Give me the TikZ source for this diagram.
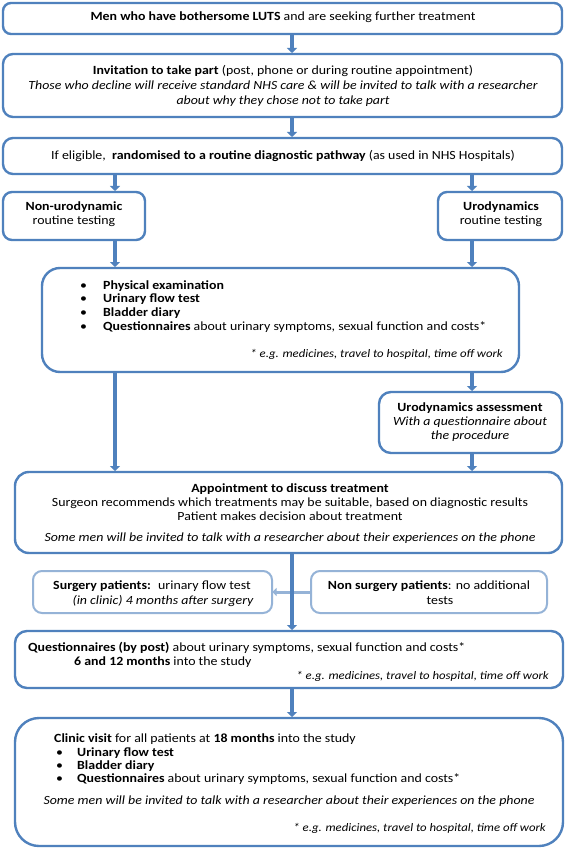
\documentclass[tikz,border=0pt]{standalone}
\usepackage{fontspec}
\setmainfont{Carlito}[FakeStretch=1.11]
\usetikzlibrary{arrows.meta}
\definecolor{bblue}{HTML}{4F81BD}
\definecolor{lblue}{HTML}{95B3D7}
\begin{document}
\begin{tikzpicture}[x=1pt,y=-1pt,
  font=\fontsize{12.5}{14.5}\selectfont,
  box/.style={draw=bblue, line width=2.4pt, rounded corners=#1, anchor=north west, inner sep=0pt, outer sep=0pt},
  box/.default=10pt,
  lbox/.style={draw=lblue, line width=2pt, rounded corners=#1, anchor=north west, inner sep=0pt, outer sep=0pt},
  lbox/.default=9pt,
  txt/.style={inner sep=0pt, anchor=base},
  txtl/.style={inner sep=0pt, anchor=base west},
  fn/.style={inner sep=0pt, anchor=base east, font=\fontsize{11.5}{13}\selectfont\itshape},
  arr/.style={draw=bblue, line width=3.8pt, -{Triangle[width=10pt,length=5pt]}, shorten >=1pt},
  larr/.style={draw=lblue, line width=3pt, -{Triangle[width=8pt,length=4pt]}, shorten >=0.5pt}
]
\useasboundingbox (0,0) rectangle (567,850);
\fill[white] (0,0) rectangle (567,850);

% boxes
\node[box=8pt, minimum width=559pt, minimum height=31pt] (b1) at (3,3) {};
\node[box=10pt, minimum width=559pt, minimum height=63pt] (b2) at (3,54) {};
\node[box=10pt, minimum width=559pt, minimum height=36pt] (b3) at (3,138) {};
\node[box=9pt, minimum width=142pt, minimum height=48pt] (b4) at (3,192) {};
\node[box=9pt, minimum width=124pt, minimum height=48pt] (b5) at (438,192) {};
\node[box=18pt, minimum width=477pt, minimum height=104pt] (b6) at (42,268) {};
\node[box=12pt, minimum width=183pt, minimum height=61pt] (b7) at (379,392) {};
\node[box=14pt, minimum width=547pt, minimum height=81pt] (b8) at (15,472) {};
\node[lbox, minimum width=239pt, minimum height=42pt] (b9) at (33,571) {};
\node[lbox, minimum width=236pt, minimum height=42pt] (b10) at (311,571) {};
\node[box=12pt, minimum width=548pt, minimum height=57pt] (b11) at (15,631) {};
\node[box=24pt, minimum width=548pt, minimum height=128pt] (b12) at (15,718) {};

% connectors
\coordinate (cx) at (292,0);
\coordinate (lx) at (115,0);
\coordinate (rx) at (472,0);
\draw[arr] (b1.south -| cx) -- (b2.north -| cx);
\draw[arr] (b2.south -| cx) -- (b3.north -| cx);
\draw[arr] (b3.south -| lx) -- (b4.north -| lx);
\draw[arr] (b3.south -| rx) -- (b5.north -| rx);
\draw[arr] (b4.south -| lx) -- (b6.north -| lx);
\draw[arr] (b5.south -| rx) -- (b6.north -| rx);
\draw[arr] (b6.south -| rx) -- (b7.north -| rx);
\draw[arr] (b6.south -| lx) -- (b8.north -| lx);
\draw[arr] (b7.south -| rx) -- (b8.north -| rx);
\draw[larr] (b10.west) -- (b9.east);
\draw[arr] (b8.south -| cx) -- (b11.north -| cx);
\draw[arr] (b11.south -| cx) -- (b12.north -| cx);

% texts
\node[txt] (t1) at (283,21) {\textbf{Men who have bothersome LUTS} and are seeking further treatment};

\node[txt] (t2a) at (283,75) {\textbf{Invitation to take part} (post, phone or during routine appointment)};
\node[txt] (t2b) at (283,90) {\itshape Those who decline will receive standard NHS care \& will be invited to talk with a researcher};
\node[txt] (t2c) at (283,105) {\itshape about why they chose not to take part};

\node[txt] (t3) at (283,160) {If eligible,~ \textbf{randomised to a routine diagnostic pathway} (as used in NHS Hospitals)};

\node[txt] (t4a) at (74,211) {\textbf{Non-urodynamic}};
\node[txt] (t4b) at (74,225) {routine testing};
\node[txt] (t5a) at (501,211) {\textbf{Urodynamics}};
\node[txt] (t5b) at (501,225) {routine testing};

\node[txtl] (t6a0) at (80,289) {\textbullet};
\node[txtl] (t6a) at (103,289) {\textbf{Physical examination}};
\node[txtl] (t6b0) at (80,302) {\textbullet};
\node[txtl] (t6b) at (103,302) {\textbf{Urinary flow test}};
\node[txtl] (t6c0) at (80,316) {\textbullet};
\node[txtl] (t6c) at (103,316) {\textbf{Bladder diary}};
\node[txtl] (t6d0) at (80,330) {\textbullet};
\node[txtl] (t6d) at (103,330) {\textbf{Questionnaires} about urinary symptoms, sexual function and costs*};
\node[fn] (t6e) at (503,357) {* e.g. medicines, travel to hospital, time off work};

\node[txt] (t7a) at (470,411) {\textbf{Urodynamics assessment}};
\node[txt] (t7b) at (470,425) {\itshape With a questionnaire about};
\node[txt] (t7c) at (470,439) {\itshape the procedure};

\node[txt] (t8a) at (290,492) {\textbf{Appointment to discuss treatment}};
\node[txt] (t8b) at (290,506) {Surgeon recommends which treatments may be suitable, based on diagnostic results};
\node[txt] (t8c) at (290,520) {Patient makes decision about treatment};
\node[txt] (t8d) at (290,541) {\itshape Some men will be invited to talk with a researcher about their experiences on the phone};

\node[txt] (t9a) at (152,589) {\textbf{Surgery patients:}~ urinary flow test};
\node[txt] (t9b) at (163,604) {\itshape (in clinic) 4 months after surgery};
\node[txt] (t10a) at (429,589) {\textbf{Non surgery patients}: no additional};
\node[txt] (t10b) at (440,604) {tests};

\node[txtl] (t11a) at (28,651) {\textbf{Questionnaires (by post)} about urinary symptoms, sexual function and costs*};
\node[txtl] (t11b) at (74,665) {\textbf{6 and 12 months} into the study};
\node[fn] (t11c) at (549,679) {* e.g. medicines, travel to hospital, time off work};

\node[txtl] (t12a) at (54,742) {\textbf{Clinic visit} for all patients at \textbf{18 months} into the study};
\node[txtl] (t12b0) at (56,756) {\textbullet};
\node[txtl] (t12b) at (77,756) {\textbf{Urinary flow test}};
\node[txtl] (t12c0) at (56,769) {\textbullet};
\node[txtl] (t12c) at (77,769) {\textbf{Bladder diary}};
\node[txtl] (t12d0) at (56,782) {\textbullet};
\node[txtl] (t12d) at (77,782) {\textbf{Questionnaires} about urinary symptoms, sexual function and costs*};
\node[txt] (t12e) at (289,804) {\itshape Some men will be invited to talk with a researcher about their experiences on the phone};
\node[fn] (t12f) at (546,831) {* e.g. medicines, travel to hospital, time off work};
\end{tikzpicture}
\end{document}
